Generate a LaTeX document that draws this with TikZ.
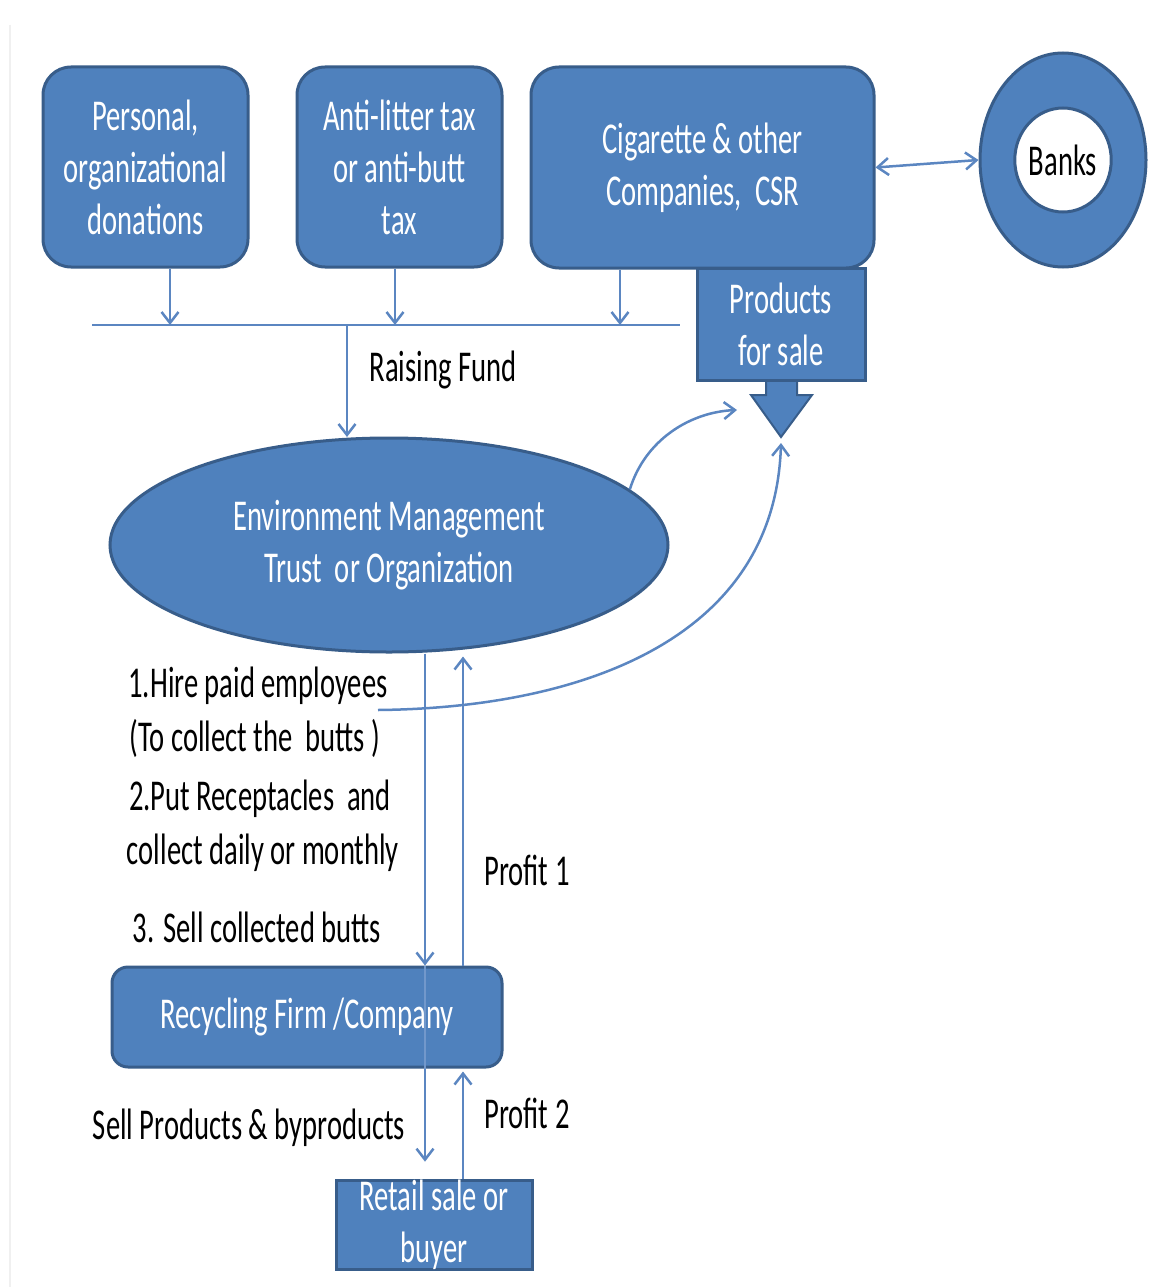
\documentclass[tikz,border=0pt]{standalone}
\usepackage{fontspec}
\setmainfont[FakeStretch=0.65]{Carlito}
\usetikzlibrary{arrows.meta,shapes.geometric}
\definecolor{boxfill}{HTML}{4F81BD}
\definecolor{boxline}{HTML}{385D8A}
\definecolor{arrowc}{HTML}{5B86C1}
\definecolor{insideline}{HTML}{7298CB}
\begin{document}
\begin{tikzpicture}[x=1pt,y=-1pt,
  every node/.style={font=\fontsize{44}{52}\selectfont},
  blk/.style={draw=boxline, fill=boxfill, line width=3pt, text=white, align=center, inner sep=0pt},
  rbox/.style={blk, rectangle, rounded corners=28pt},
  lbl/.style={text=black, align=center, inner sep=0pt},
  conn/.style={draw=arrowc, line width=2.5pt},
  arr/.style={conn, -{Straight Barb[length=11pt,width=17pt,line width=2.5pt]}},
  darr/.style={conn, {Straight Barb[length=11pt,width=17pt,line width=2.5pt]}-{Straight Barb[length=11pt,width=17pt,line width=2.5pt]}},
]
\useasboundingbox (0,0) rectangle (1171,1287);
\fill[white] (0,0) rectangle (1171,1287);
\draw[gray!12, line width=2pt] (10,25) -- (10,1287);

% top boxes
\node[rbox, minimum width=205pt, minimum height=200pt] (don) at (145.5,167) {Personal,\\organizational\\donations};
\node[rbox, minimum width=205pt, minimum height=200pt] (tax) at (399.5,167) {Anti-litter tax\\or anti-butt\\tax};
\node[rbox, minimum width=343pt, minimum height=201pt] (cig) at (702.5,167.5) {Cigarette \& other\\Companies,\ \ CSR};

% banks ring
\node[blk, ellipse, minimum width=166pt, minimum height=214pt] (ring) at (1063,160) {};
\node[draw=boxline, fill=white, line width=3pt, ellipse, minimum width=88pt, minimum height=104pt, inner sep=0pt, text=black] (banks) at (1063,160) {Banks};
\draw[darr] (cig.east) -- (ring.west);

% products block arrow
\draw[draw=boxline, fill=boxfill, line width=2pt, line join=miter]
  (766,370) -- (766,395) -- (751,395) -- (781,437) -- (812,395) -- (797,395) -- (797,370) -- cycle;
\node[blk, rectangle, minimum width=168pt, minimum height=112pt] (prod) at (781,324) {Products\\for sale};

% bus line
\coordinate (busL) at (92,325);
\coordinate (busR) at (680,325);
\draw[conn] (busL) -- (busR);
\coordinate (b1) at (170,325);
\coordinate (b2) at (395,325);
\coordinate (b3) at (620,325);
\coordinate (b0) at (347,325);
\draw[arr] (b1 |- don.south) -- (b1);
\draw[arr] (b2 |- tax.south) -- (b2);
\draw[arr] (b3 |- cig.south) -- (b3);

% ellipse
\node[blk, ellipse, minimum width=558pt, minimum height=214pt] (ell) at (389,545) {Environment Management\\Trust\ \ or Organization};
\draw[arr] (b0) -- (347,437);
\node[lbl] (raise) at (443,370) {Raising Fund};

% curved arrows to products
\coordinate (tA) at (737,410);
\draw[arr] (ell.13.8) .. controls (645,440) and (690,412) .. (tA);
\coordinate (sB) at (378,710);
\coordinate (tB) at (781,443);
\draw[arr] (sB) .. controls (580,708) and (775,640) .. (tB);

% recycling
\node[rbox, rounded corners=16pt, minimum width=390pt, minimum height=100pt] (rec) at (307,1017) {Recycling Firm /Company};
\node[blk, rectangle, minimum width=196pt, minimum height=86pt] (ret) at (434,1225) {Retail sale or\\buyer};

\coordinate (x1) at (425,0);
\coordinate (x2) at (463,0);
\draw[arr] (x1 |- ell.south) -- (x1 |- rec.north);
\draw[arr] (x2 |- rec.north) -- ([yshift=-3pt]x2 |- ell.south);
\draw[insideline, line width=2pt] (x1 |- rec.north) -- (x1 |- rec.south);
\draw[arr] (x1 |- rec.south) -- ([yshift=17pt]x1 |- ret.north);
\draw[arr] (x2 |- ret.north) -- ([yshift=-3pt]x2 |- rec.south);

% labels
\node[lbl] (l1) at (258,686) {1.Hire paid employees};
\node[lbl] (l2) at (255,738) {(To collect the\ \ butts )};
\node[lbl] (l3) at (260,799) {2.Put Receptacles\ \ and};
\node[lbl] (l4) at (263,853) {collect daily or monthly};
\node[lbl] (l5) at (257,927) {3. Sell collected butts};
\node[lbl] (p1) at (527,870) {Profit 1};
\node[lbl] (l6) at (249,1128) {Sell Products \& byproducts};
\node[lbl] (p2) at (527,1113) {Profit 2};
\end{tikzpicture}
\end{document}
